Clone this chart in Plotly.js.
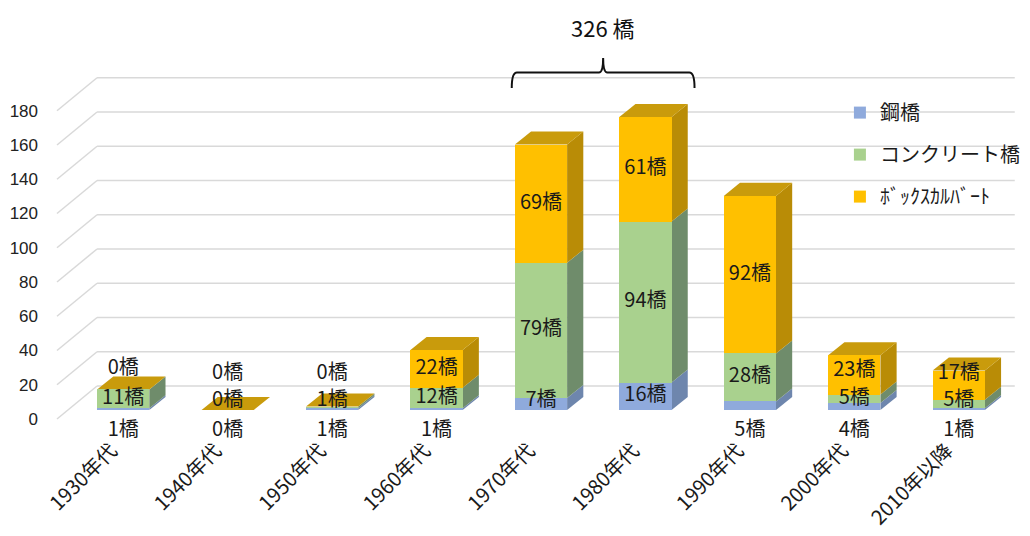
<!DOCTYPE html>
<html>
<head>
<meta charset="utf-8">
<script src="https://cdn.plot.ly/plotly-3.0.1.min.js"></script>
<style>html,body{margin:0;padding:0;background:#fff;}#chart{width:1030px;height:536px;}</style>
</head>
<body>
<div id="chart"></div>
<script>
// ---- data ----
const categories = ['1930年代','1940年代','1950年代','1960年代','1970年代','1980年代','1990年代','2000年代','2010年以降'];
const steel    = [1, 0, 1, 1, 7, 16, 5, 4, 1];
const concrete = [11, 0, 1, 12, 79, 94, 28, 5, 5];
const box      = [0, 0, 0, 22, 69, 61, 92, 23, 17];
const seriesNames = ['鋼橋', 'コンクリート橋', 'ﾎﾞｯｸｽｶﾙﾊﾞｰﾄ'];
const yTicks = [0, 20, 40, 60, 80, 100, 120, 140, 160, 180];
const bracketCats = ['1970年代', '1980年代'];
const unit = '橋';

// ---- styles ----
const frontColors = ['#8FAADC', '#A9D18E', '#FFC000'];
const sideColors  = ['#6E86AD', '#6F8C6B', '#B98C06'];
const topColor = '#C99B0C';
const jp = '"Noto Sans CJK JP", "Noto Sans", sans-serif';
const barW = 0.5, dx = 0.155, dy = 7.6;

const xs = categories.map((c, i) => i);
const series = [steel, concrete, box];

const traces = series.map((vals, s) => ({
  type: 'bar', x: xs, y: vals, name: seriesNames[s], width: barW,
  marker: { color: frontColors[s], line: { width: 0 } },
  legendgroup: 'g' + s, hoverinfo: 'skip'
}));

// label positions derived from data
const steelY = steel.map(v => v >= 7 ? Math.max(v / 2, 5.5) : -12.5);
const concY = concrete.map((v, i) => Math.max(steel[i] + v / 2, 5));
const boxY = box.map((v, i) => {
  const base = steel[i] + concrete[i];
  if (v === 0) return Math.max(base + 12, concY[i] + 16);
  return Math.max(base + v / 2, concY[i] + 16);
});
[[steel, steelY], [concrete, concY], [box, boxY]].forEach(([vals, ys]) => {
  traces.push({
    type: 'scatter', mode: 'text', x: xs, y: ys,
    text: vals.map(v => v + unit),
    textfont: { family: jp, size: 20, color: '#1a1a1a' },
    showlegend: false, hoverinfo: 'skip', cliponaxis: false
  });
});

// ---- shapes ----
const shapes = [];
const gridDepth = 14, labelDrop = 5.3;
yTicks.forEach(v => {
  shapes.push({ type: 'line', xref: 'paper', yref: 'y', x0: 0.0277, x1: 1.004, y0: v + gridDepth, y1: v + gridDepth,
    line: { color: '#D9D9D9', width: 1.5 }, layer: 'below' });
  shapes.push({ type: 'line', xref: 'paper', yref: 'y', x0: -0.0149, x1: 0.0277, y0: v - labelDrop, y1: v + gridDepth,
    line: { color: '#D9D9D9', width: 1.5 }, layer: 'below' });
});
xs.forEach(i => {
  const x0 = i - barW / 2, x1 = i + barW / 2;
  let base = 0;
  series.forEach((vals, s) => {
    const h = vals[i];
    if (h > 0) {
      const y0 = base, y1 = base + h;
      shapes.push({ type: 'path', xref: 'x', yref: 'y', layer: 'between',
        path: `M ${x1},${y0} L ${x1 + dx},${y0 + dy} L ${x1 + dx},${y1 + dy} L ${x1},${y1} Z`,
        fillcolor: sideColors[s], line: { width: 0 } });
    }
    base += h;
  });
  shapes.push({ type: 'path', xref: 'x', yref: 'y', layer: 'between',
    path: `M ${x0},${base} L ${x0 + dx},${base + dy} L ${x1 + dx},${base + dy} L ${x1},${base} Z`,
    fillcolor: topColor, line: { width: 0 } });
});

// bracket over the two decades
const bi = bracketCats.map(c => categories.indexOf(c));
const totals = xs.map(i => steel[i] + concrete[i] + box[i]);
const bracketSum = bi.reduce((a, i) => a + totals[i], 0);
const xl = bi[0] - 0.28, xr = bi[1] + 0.47, xm = (xl + xr) / 2;
const yb = Math.max(...bi.map(i => totals[i])) + 26;
shapes.push({ type: 'path', xref: 'x', yref: 'y', layer: 'above',
  path: `M ${xl},${yb - 9} Q ${xl},${yb} ${xl + 0.05},${yb} L ${xm - 0.04},${yb} Q ${xm},${yb} ${xm},${yb + 8.5} Q ${xm},${yb} ${xm + 0.04},${yb} L ${xr - 0.05},${yb} Q ${xr},${yb} ${xr},${yb - 9}`,
  line: { color: '#111', width: 2 } });

const layout = {
  width: 1030, height: 536,
  margin: { l: 71, r: 19, t: 45, b: 100, autoexpand: false },
  paper_bgcolor: '#fff', plot_bgcolor: 'rgba(0,0,0,0)',
  barmode: 'stack', bargap: 0.5,
  showlegend: true,
  legend: { x: 0.818, y: 0.877, xanchor: 'left', yanchor: 'top', traceorder: 'grouped', tracegroupgap: 13,
    bgcolor: 'rgba(255,255,255,0)', font: { family: jp, size: 20, color: '#1a1a1a' } },
  xaxis: { range: [-0.5, 8.5], tickmode: 'array', tickvals: xs, ticktext: categories, tickangle: -45,
    showgrid: false, zeroline: false, showline: false, ticks: '', ticklabelshift: -12, ticklabelstandoff: -2,
    tickfont: { family: jp, size: 20, color: '#1a1a1a' } },
  yaxis: { range: [-15.2, 213.1], tickmode: 'array', tickvals: yTicks, showgrid: false, zeroline: false,
    showline: false, ticks: '', ticklabelshift: 9, ticklabelstandoff: 32,
    tickfont: { family: '"Liberation Sans", Arial, sans-serif', size: 17, color: '#222' } },
  shapes: shapes,
  annotations: [{ xref: 'x', yref: 'paper', x: xm, y: 1.046, text: bracketSum + ' ' + unit, showarrow: false,
    font: { family: jp, size: 22, color: '#111' }, xanchor: 'center', yanchor: 'middle' }]
};

Plotly.newPlot('chart', traces, layout, { staticPlot: true });
</script>
</body>
</html>
